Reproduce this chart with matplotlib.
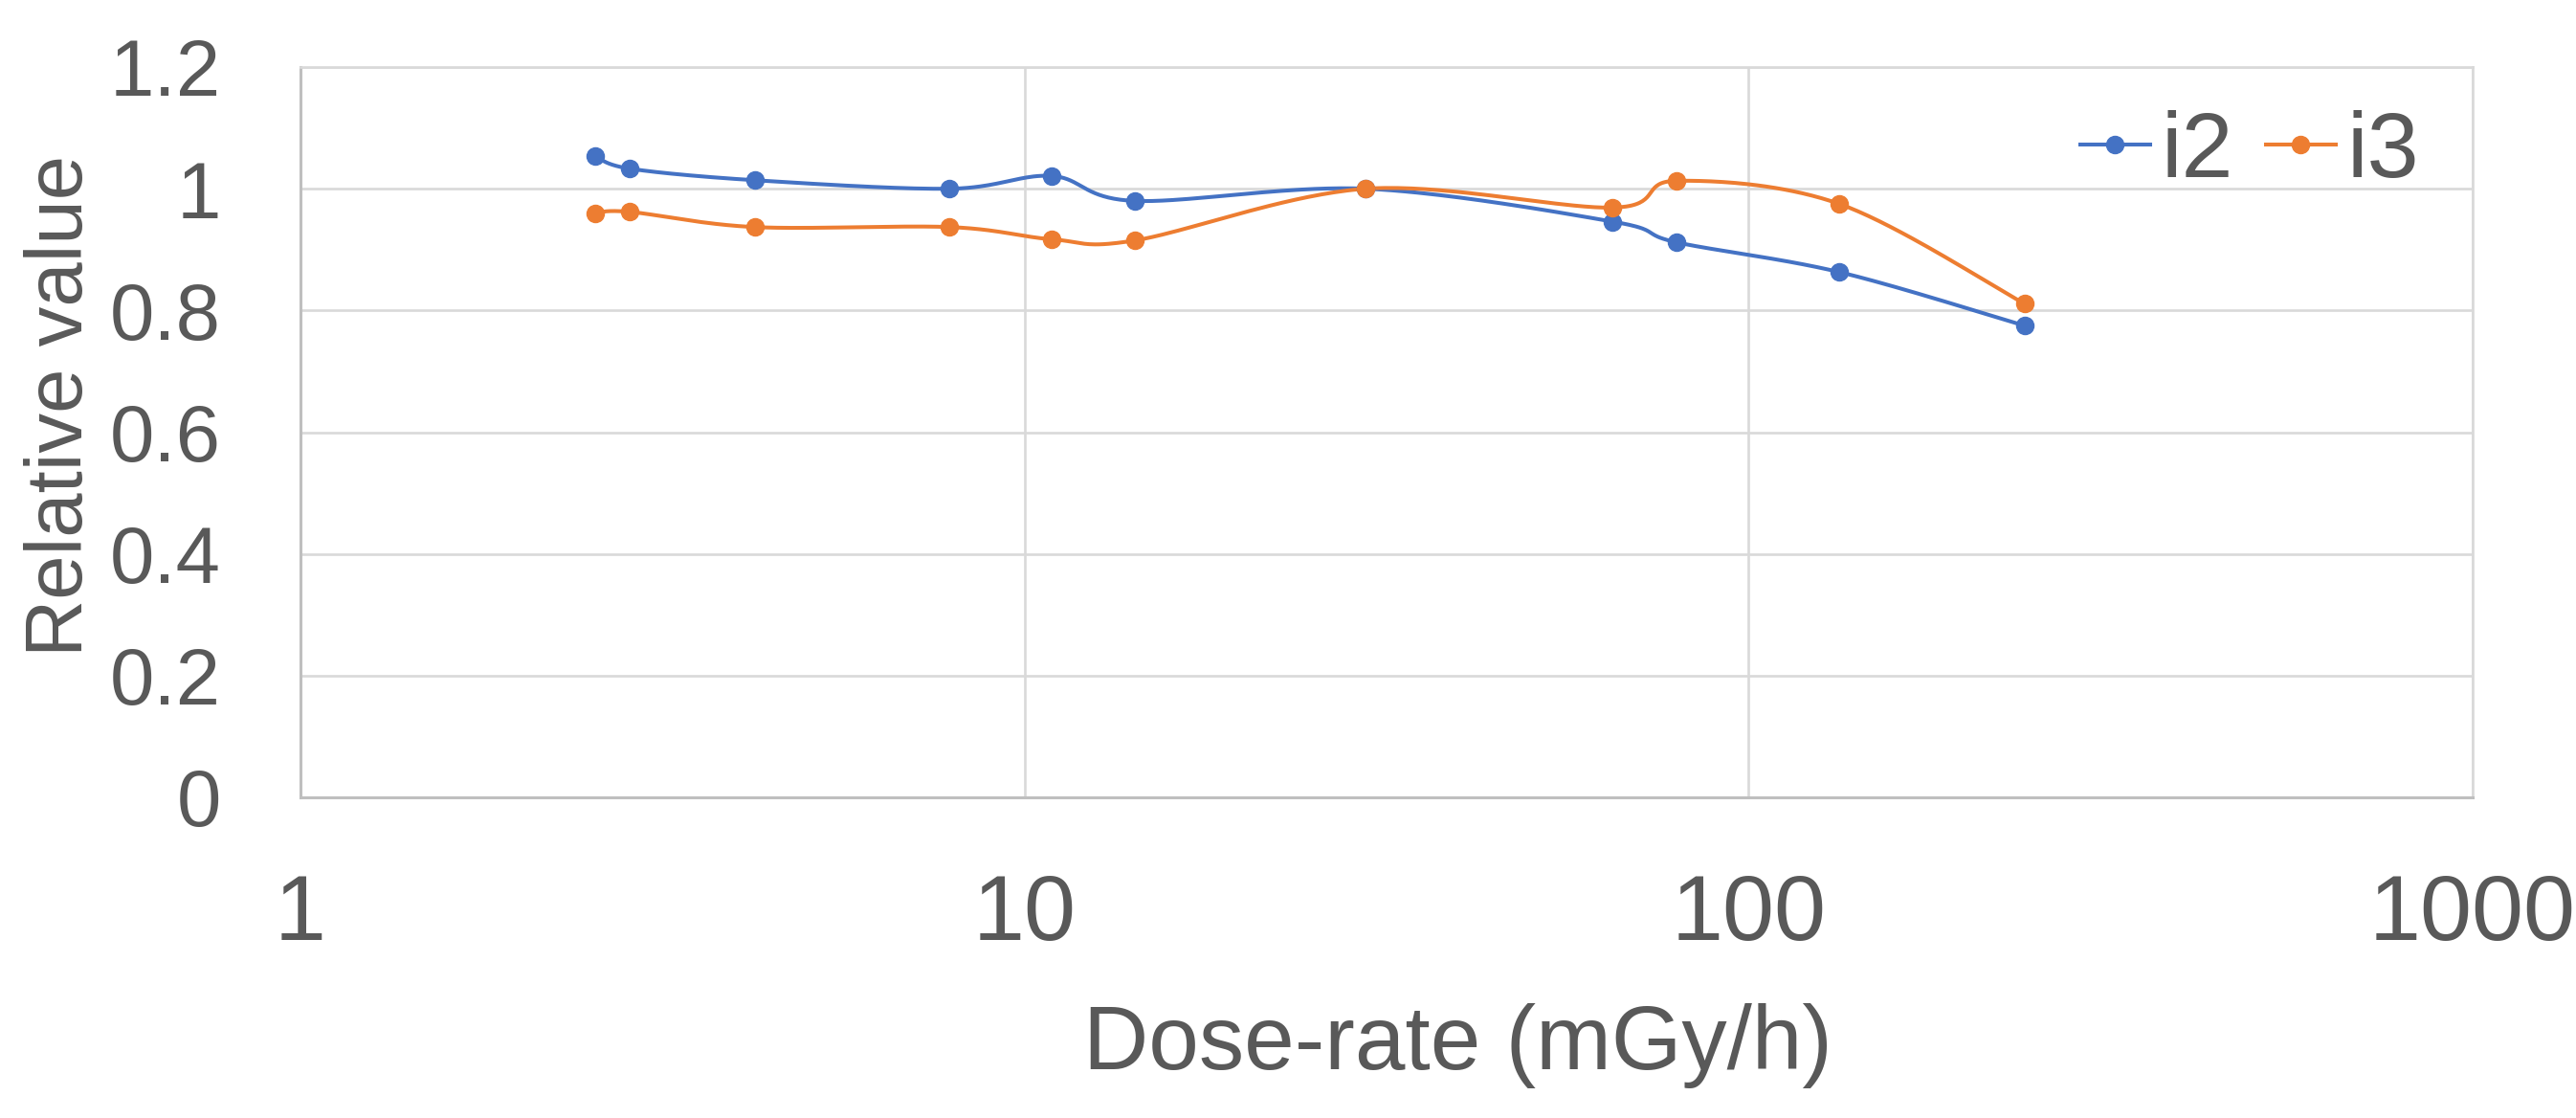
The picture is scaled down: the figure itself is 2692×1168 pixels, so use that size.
import numpy as np
import matplotlib
matplotlib.use('Agg')
import matplotlib.pyplot as plt

plt.rcParams['font.family'] = ['Liberation Sans', 'DejaVu Sans']

# values
dose = [2.55, 2.85, 4.24, 7.88, 10.9, 14.2, 29.6, 64.9, 79.5, 133.5, 240.5]
i2 = [1.054, 1.033, 1.014, 1.0, 1.021, 0.980, 1.0, 0.946, 0.912, 0.863, 0.775]
i3 = [0.960, 0.962, 0.937, 0.937, 0.917, 0.915, 1.0, 0.969, 1.013, 0.975, 0.811]
series_names = ['i2', 'i3']
colors = ['#4472C4', '#ED7D31']
xticks = [1, 10, 100, 1000]
yticks = [0, 0.2, 0.4, 0.6, 0.8, 1.0, 1.2]
ytick_labels = ['0', '0.2', '0.4', '0.6', '0.8', '1', '1.2']

text_col = '#595959'
grid_col = '#D9D9D9'

fig = plt.figure(figsize=(26.92, 11.68), dpi=100)
ax = fig.add_axes([314 / 2692, 1 - 833 / 1168, 2270 / 2692, 763 / 1168])
ax.set_xscale('log')
ax.set_xlim(1, 1000)
ax.set_ylim(0, 1.2)


def smooth(xs, ys, n=40):
    # excel-like smoothed line: catmull-rom bezier in screen space
    pts = ax.transData.transform(np.column_stack([xs, ys]))
    out = []
    m = len(pts)
    for k in range(m - 1):
        p0 = pts[max(k - 1, 0)]
        p1 = pts[k]
        p2 = pts[k + 1]
        p3 = pts[min(k + 2, m - 1)]
        c1 = p1 + (p2 - p0) / 6
        c2 = p2 - (p3 - p1) / 6
        t = np.linspace(0, 1, n)[:, None]
        seg = ((1 - t) ** 3) * p1 + 3 * ((1 - t) ** 2) * t * c1 + 3 * (1 - t) * t ** 2 * c2 + t ** 3 * p2
        out.append(seg if k == 0 else seg[1:])
    out = np.vstack(out)
    d = ax.transData.inverted().transform(out)
    return d[:, 0], d[:, 1]


for name, vals, c in zip(series_names, [i2, i3], colors):
    sx, sy = smooth(dose, vals)
    ax.plot(sx, sy, color=c, lw=2.9, solid_capstyle='round', zorder=3)
    ax.plot(dose, vals, 'o', color=c, ms=13, zorder=4)
    ax.plot([], [], '-o', color=c, lw=2.9, ms=13, label=name)

ax.xaxis.set_major_locator(matplotlib.ticker.FixedLocator(xticks))
ax.xaxis.set_minor_locator(matplotlib.ticker.NullLocator())
ax.set_xticks(xticks)
ax.set_xticklabels([str(v) for v in xticks])
ax.set_yticks(yticks)
ax.set_yticklabels(ytick_labels)
ax.tick_params(axis='both', length=0, colors=text_col)
ax.tick_params(axis='x', labelsize=70, pad=57)
ax.tick_params(axis='y', labelsize=60, pad=60)

ax.grid(True, color=grid_col, lw=1.9)
ax.set_axisbelow(True)
for s in ['top', 'right']:
    ax.spines[s].set_color(grid_col)
    ax.spines[s].set_linewidth(1.9)
for s in ['left', 'bottom']:
    ax.spines[s].set_color('#BFBFBF')
    ax.spines[s].set_linewidth(2.2)

ax.set_xlabel('Dose-rate (mGy/h)', fontsize=68, color=text_col, va='baseline')
ax.xaxis.set_label_coords(0.533, -0.3724)
ax.set_ylabel('Relative value', fontsize=60, color=text_col, va='baseline')
ax.yaxis.set_label_coords(-0.1004, 0.5357)

ax.legend(loc='center', bbox_to_anchor=(2351 / 2692, 1 - 160 / 1168), bbox_transform=fig.transFigure,
          ncol=2, frameon=False, fontsize=70, labelcolor=text_col, handlelength=0.75,
          handletextpad=0.12, columnspacing=0.35, markerscale=1.0, borderpad=0)

fig.savefig('out.png', dpi=100, facecolor='white')
